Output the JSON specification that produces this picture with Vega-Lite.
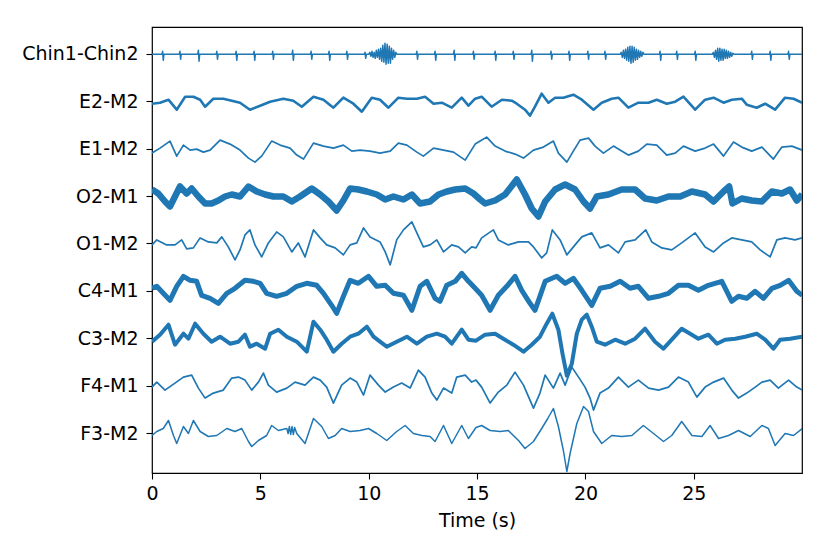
{
"$schema":"https://vega.github.io/schema/vega-lite/v6.json",
"width":650,"height":446,
"autosize":{"type":"none"},
"padding":{"left":152,"top":27,"right":28,"bottom":81},
"background":"white",
"config":{"view":{"stroke":"black","strokeWidth":1.2},"font":"DejaVu Sans"},
"data":{"values":[
{"c":"Chin1-Chin2","t":0,"a":0},
{"c":"Chin1-Chin2","t":0.46,"a":0},{"c":"Chin1-Chin2","t":0.49,"a":3},{"c":"Chin1-Chin2","t":0.52,"a":-6},{"c":"Chin1-Chin2","t":0.55,"a":0},
{"c":"Chin1-Chin2","t":1.26,"a":0},{"c":"Chin1-Chin2","t":1.29,"a":3},{"c":"Chin1-Chin2","t":1.32,"a":-5},{"c":"Chin1-Chin2","t":1.35,"a":0},
{"c":"Chin1-Chin2","t":2.11,"a":0},{"c":"Chin1-Chin2","t":2.14,"a":4},{"c":"Chin1-Chin2","t":2.17,"a":-7},{"c":"Chin1-Chin2","t":2.2,"a":0},
{"c":"Chin1-Chin2","t":2.96,"a":0},{"c":"Chin1-Chin2","t":2.99,"a":3},{"c":"Chin1-Chin2","t":3.02,"a":-5},{"c":"Chin1-Chin2","t":3.05,"a":0},
{"c":"Chin1-Chin2","t":3.85,"a":0},{"c":"Chin1-Chin2","t":3.88,"a":3},{"c":"Chin1-Chin2","t":3.91,"a":-6},{"c":"Chin1-Chin2","t":3.94,"a":0},
{"c":"Chin1-Chin2","t":4.68,"a":0},{"c":"Chin1-Chin2","t":4.71,"a":3},{"c":"Chin1-Chin2","t":4.74,"a":-6},{"c":"Chin1-Chin2","t":4.77,"a":0},
{"c":"Chin1-Chin2","t":5.54,"a":0},{"c":"Chin1-Chin2","t":5.57,"a":3},{"c":"Chin1-Chin2","t":5.6,"a":-5},{"c":"Chin1-Chin2","t":5.63,"a":0},
{"c":"Chin1-Chin2","t":6.46,"a":0},{"c":"Chin1-Chin2","t":6.49,"a":4},{"c":"Chin1-Chin2","t":6.52,"a":-6},{"c":"Chin1-Chin2","t":6.55,"a":0},
{"c":"Chin1-Chin2","t":7.31,"a":0},{"c":"Chin1-Chin2","t":7.34,"a":3},{"c":"Chin1-Chin2","t":7.37,"a":-5},{"c":"Chin1-Chin2","t":7.4,"a":0},
{"c":"Chin1-Chin2","t":8.14,"a":0},{"c":"Chin1-Chin2","t":8.17,"a":3},{"c":"Chin1-Chin2","t":8.2,"a":-6},{"c":"Chin1-Chin2","t":8.23,"a":0},
{"c":"Chin1-Chin2","t":8.96,"a":0},{"c":"Chin1-Chin2","t":8.99,"a":3},{"c":"Chin1-Chin2","t":9.02,"a":-5},{"c":"Chin1-Chin2","t":9.05,"a":0},
{"c":"Chin1-Chin2","t":9.8,"a":0},{"c":"Chin1-Chin2","t":9.83,"a":2},{"c":"Chin1-Chin2","t":9.86,"a":-4},{"c":"Chin1-Chin2","t":9.89,"a":0},
{"c":"Chin1-Chin2","t":10.0,"a":0},{"c":"Chin1-Chin2","t":10.05,"a":2},{"c":"Chin1-Chin2","t":10.1,"a":-2},{"c":"Chin1-Chin2","t":10.15,"a":3},{"c":"Chin1-Chin2","t":10.2,"a":-3},{"c":"Chin1-Chin2","t":10.25,"a":2},{"c":"Chin1-Chin2","t":10.3,"a":-4},{"c":"Chin1-Chin2","t":10.35,"a":4},{"c":"Chin1-Chin2","t":10.4,"a":-3},{"c":"Chin1-Chin2","t":10.45,"a":5},{"c":"Chin1-Chin2","t":10.5,"a":-5},{"c":"Chin1-Chin2","t":10.55,"a":6},{"c":"Chin1-Chin2","t":10.6,"a":-7},{"c":"Chin1-Chin2","t":10.65,"a":9},{"c":"Chin1-Chin2","t":10.7,"a":-8},{"c":"Chin1-Chin2","t":10.75,"a":11},{"c":"Chin1-Chin2","t":10.8,"a":-10},{"c":"Chin1-Chin2","t":10.85,"a":10},{"c":"Chin1-Chin2","t":10.9,"a":-9},{"c":"Chin1-Chin2","t":10.95,"a":8},{"c":"Chin1-Chin2","t":11.0,"a":-9},{"c":"Chin1-Chin2","t":11.05,"a":6},{"c":"Chin1-Chin2","t":11.1,"a":-5},{"c":"Chin1-Chin2","t":11.15,"a":4},{"c":"Chin1-Chin2","t":11.2,"a":-3},{"c":"Chin1-Chin2","t":11.25,"a":2},{"c":"Chin1-Chin2","t":11.3,"a":0},
{"c":"Chin1-Chin2","t":12.19,"a":0},{"c":"Chin1-Chin2","t":12.22,"a":3},{"c":"Chin1-Chin2","t":12.25,"a":-5},{"c":"Chin1-Chin2","t":12.28,"a":0},
{"c":"Chin1-Chin2","t":13.03,"a":0},{"c":"Chin1-Chin2","t":13.06,"a":3},{"c":"Chin1-Chin2","t":13.09,"a":-6},{"c":"Chin1-Chin2","t":13.12,"a":0},
{"c":"Chin1-Chin2","t":13.91,"a":0},{"c":"Chin1-Chin2","t":13.94,"a":4},{"c":"Chin1-Chin2","t":13.97,"a":-6},{"c":"Chin1-Chin2","t":14.0,"a":0},
{"c":"Chin1-Chin2","t":14.8,"a":0},{"c":"Chin1-Chin2","t":14.83,"a":3},{"c":"Chin1-Chin2","t":14.86,"a":-5},{"c":"Chin1-Chin2","t":14.89,"a":0},
{"c":"Chin1-Chin2","t":15.8,"a":0},{"c":"Chin1-Chin2","t":15.83,"a":3},{"c":"Chin1-Chin2","t":15.86,"a":-6},{"c":"Chin1-Chin2","t":15.89,"a":0},
{"c":"Chin1-Chin2","t":16.64,"a":0},{"c":"Chin1-Chin2","t":16.67,"a":3},{"c":"Chin1-Chin2","t":16.7,"a":-5},{"c":"Chin1-Chin2","t":16.73,"a":0},
{"c":"Chin1-Chin2","t":17.49,"a":0},{"c":"Chin1-Chin2","t":17.52,"a":4},{"c":"Chin1-Chin2","t":17.55,"a":-7},{"c":"Chin1-Chin2","t":17.58,"a":0},
{"c":"Chin1-Chin2","t":18.38,"a":0},{"c":"Chin1-Chin2","t":18.41,"a":3},{"c":"Chin1-Chin2","t":18.44,"a":-5},{"c":"Chin1-Chin2","t":18.47,"a":0},
{"c":"Chin1-Chin2","t":19.21,"a":0},{"c":"Chin1-Chin2","t":19.24,"a":3},{"c":"Chin1-Chin2","t":19.27,"a":-6},{"c":"Chin1-Chin2","t":19.3,"a":0},
{"c":"Chin1-Chin2","t":20.08,"a":0},{"c":"Chin1-Chin2","t":20.11,"a":3},{"c":"Chin1-Chin2","t":20.14,"a":-5},{"c":"Chin1-Chin2","t":20.17,"a":0},
{"c":"Chin1-Chin2","t":20.87,"a":0},{"c":"Chin1-Chin2","t":20.9,"a":3},{"c":"Chin1-Chin2","t":20.93,"a":-5},{"c":"Chin1-Chin2","t":20.96,"a":0},
{"c":"Chin1-Chin2","t":21.6,"a":0},{"c":"Chin1-Chin2","t":21.65,"a":2},{"c":"Chin1-Chin2","t":21.7,"a":-3},{"c":"Chin1-Chin2","t":21.75,"a":4},{"c":"Chin1-Chin2","t":21.8,"a":-4},{"c":"Chin1-Chin2","t":21.85,"a":5},{"c":"Chin1-Chin2","t":21.9,"a":-6},{"c":"Chin1-Chin2","t":21.95,"a":7},{"c":"Chin1-Chin2","t":22.0,"a":-7},{"c":"Chin1-Chin2","t":22.05,"a":8},{"c":"Chin1-Chin2","t":22.1,"a":-9},{"c":"Chin1-Chin2","t":22.15,"a":8},{"c":"Chin1-Chin2","t":22.2,"a":-8},{"c":"Chin1-Chin2","t":22.25,"a":7},{"c":"Chin1-Chin2","t":22.3,"a":-6},{"c":"Chin1-Chin2","t":22.35,"a":5},{"c":"Chin1-Chin2","t":22.4,"a":-5},{"c":"Chin1-Chin2","t":22.45,"a":4},{"c":"Chin1-Chin2","t":22.5,"a":-3},{"c":"Chin1-Chin2","t":22.55,"a":3},{"c":"Chin1-Chin2","t":22.6,"a":-2},{"c":"Chin1-Chin2","t":22.65,"a":2},{"c":"Chin1-Chin2","t":22.7,"a":0},
{"c":"Chin1-Chin2","t":23.41,"a":0},{"c":"Chin1-Chin2","t":23.44,"a":3},{"c":"Chin1-Chin2","t":23.47,"a":-6},{"c":"Chin1-Chin2","t":23.5,"a":0},
{"c":"Chin1-Chin2","t":24.18,"a":0},{"c":"Chin1-Chin2","t":24.21,"a":3},{"c":"Chin1-Chin2","t":24.24,"a":-5},{"c":"Chin1-Chin2","t":24.27,"a":0},
{"c":"Chin1-Chin2","t":25.03,"a":0},{"c":"Chin1-Chin2","t":25.06,"a":3},{"c":"Chin1-Chin2","t":25.09,"a":-6},{"c":"Chin1-Chin2","t":25.12,"a":0},
{"c":"Chin1-Chin2","t":25.85,"a":0},{"c":"Chin1-Chin2","t":25.9,"a":2},{"c":"Chin1-Chin2","t":25.95,"a":-3},{"c":"Chin1-Chin2","t":26.0,"a":4},{"c":"Chin1-Chin2","t":26.05,"a":-5},{"c":"Chin1-Chin2","t":26.1,"a":6},{"c":"Chin1-Chin2","t":26.15,"a":-7},{"c":"Chin1-Chin2","t":26.2,"a":6},{"c":"Chin1-Chin2","t":26.25,"a":-6},{"c":"Chin1-Chin2","t":26.3,"a":5},{"c":"Chin1-Chin2","t":26.35,"a":-6},{"c":"Chin1-Chin2","t":26.4,"a":5},{"c":"Chin1-Chin2","t":26.45,"a":-4},{"c":"Chin1-Chin2","t":26.5,"a":4},{"c":"Chin1-Chin2","t":26.55,"a":-4},{"c":"Chin1-Chin2","t":26.6,"a":3},{"c":"Chin1-Chin2","t":26.65,"a":-3},{"c":"Chin1-Chin2","t":26.7,"a":2},{"c":"Chin1-Chin2","t":26.75,"a":-2},{"c":"Chin1-Chin2","t":26.8,"a":1},{"c":"Chin1-Chin2","t":26.85,"a":0},
{"c":"Chin1-Chin2","t":27.64,"a":0},{"c":"Chin1-Chin2","t":27.67,"a":3},{"c":"Chin1-Chin2","t":27.7,"a":-5},{"c":"Chin1-Chin2","t":27.73,"a":0},
{"c":"Chin1-Chin2","t":28.49,"a":0},{"c":"Chin1-Chin2","t":28.52,"a":3},{"c":"Chin1-Chin2","t":28.55,"a":-6},{"c":"Chin1-Chin2","t":28.58,"a":0},
{"c":"Chin1-Chin2","t":29.34,"a":0},{"c":"Chin1-Chin2","t":29.37,"a":3},{"c":"Chin1-Chin2","t":29.4,"a":-5},{"c":"Chin1-Chin2","t":29.43,"a":0},
{"c":"Chin1-Chin2","t":30,"a":0},
{"c":"E2-M2","t":0,"a":-2},{"c":"E2-M2","t":0.37,"a":-1},{"c":"E2-M2","t":0.76,"a":2},{"c":"E2-M2","t":1.14,"a":-8},{"c":"E2-M2","t":1.53,"a":5},{"c":"E2-M2","t":1.91,"a":5},{"c":"E2-M2","t":2.22,"a":2},{"c":"E2-M2","t":2.45,"a":-5},{"c":"E2-M2","t":2.83,"a":3},{"c":"E2-M2","t":3.29,"a":3},{"c":"E2-M2","t":3.68,"a":1},{"c":"E2-M2","t":4.06,"a":-1},{"c":"E2-M2","t":4.52,"a":-8},{"c":"E2-M2","t":4.99,"a":-4},{"c":"E2-M2","t":5.45,"a":0},{"c":"E2-M2","t":6.06,"a":3},{"c":"E2-M2","t":6.52,"a":1},{"c":"E2-M2","t":6.91,"a":-5},{"c":"E2-M2","t":7.45,"a":5},{"c":"E2-M2","t":7.91,"a":2},{"c":"E2-M2","t":8.37,"a":-6},{"c":"E2-M2","t":8.83,"a":4},{"c":"E2-M2","t":9.29,"a":-2},{"c":"E2-M2","t":9.68,"a":-10},{"c":"E2-M2","t":10.14,"a":4},{"c":"E2-M2","t":10.52,"a":2},{"c":"E2-M2","t":10.91,"a":-6},{"c":"E2-M2","t":11.37,"a":4},{"c":"E2-M2","t":11.76,"a":3},{"c":"E2-M2","t":12.22,"a":3},{"c":"E2-M2","t":12.6,"a":5},{"c":"E2-M2","t":12.99,"a":-2},{"c":"E2-M2","t":13.37,"a":-1},{"c":"E2-M2","t":13.83,"a":-6},{"c":"E2-M2","t":14.29,"a":4},{"c":"E2-M2","t":14.6,"a":-4},{"c":"E2-M2","t":14.91,"a":3},{"c":"E2-M2","t":15.21,"a":5},{"c":"E2-M2","t":15.67,"a":-5},{"c":"E2-M2","t":16.14,"a":2},{"c":"E2-M2","t":16.6,"a":1},{"c":"E2-M2","t":16.83,"a":-2},{"c":"E2-M2","t":17.21,"a":-8},{"c":"E2-M2","t":17.44,"a":-14},{"c":"E2-M2","t":17.67,"a":-5},{"c":"E2-M2","t":17.98,"a":8},{"c":"E2-M2","t":18.29,"a":-1},{"c":"E2-M2","t":18.6,"a":4},{"c":"E2-M2","t":18.98,"a":4},{"c":"E2-M2","t":19.44,"a":7},{"c":"E2-M2","t":19.83,"a":2},{"c":"E2-M2","t":20.37,"a":-8},{"c":"E2-M2","t":20.75,"a":-1},{"c":"E2-M2","t":21.21,"a":3},{"c":"E2-M2","t":21.52,"a":4},{"c":"E2-M2","t":21.98,"a":-6},{"c":"E2-M2","t":22.44,"a":-1},{"c":"E2-M2","t":22.91,"a":-1},{"c":"E2-M2","t":23.29,"a":2},{"c":"E2-M2","t":23.75,"a":-2},{"c":"E2-M2","t":24.14,"a":0},{"c":"E2-M2","t":24.52,"a":5},{"c":"E2-M2","t":25.06,"a":-8},{"c":"E2-M2","t":25.52,"a":2},{"c":"E2-M2","t":25.91,"a":4},{"c":"E2-M2","t":26.37,"a":-1},{"c":"E2-M2","t":26.75,"a":2},{"c":"E2-M2","t":27.21,"a":3},{"c":"E2-M2","t":27.44,"a":-3},{"c":"E2-M2","t":27.9,"a":-6},{"c":"E2-M2","t":28.29,"a":-2},{"c":"E2-M2","t":28.75,"a":-8},{"c":"E2-M2","t":29.21,"a":4},{"c":"E2-M2","t":29.6,"a":3},{"c":"E2-M2","t":30,"a":-1},
{"c":"E1-M2","t":0,"a":-4},{"c":"E1-M2","t":0.37,"a":1},{"c":"E1-M2","t":0.83,"a":8},{"c":"E1-M2","t":1.14,"a":-7},{"c":"E1-M2","t":1.45,"a":4},{"c":"E1-M2","t":1.76,"a":-1},{"c":"E1-M2","t":2.06,"a":0},{"c":"E1-M2","t":2.37,"a":-3},{"c":"E1-M2","t":2.68,"a":-1},{"c":"E1-M2","t":3.14,"a":9},{"c":"E1-M2","t":3.6,"a":5},{"c":"E1-M2","t":4.06,"a":-1},{"c":"E1-M2","t":4.45,"a":-9},{"c":"E1-M2","t":4.75,"a":-13},{"c":"E1-M2","t":5.06,"a":-7},{"c":"E1-M2","t":5.52,"a":8},{"c":"E1-M2","t":5.91,"a":4},{"c":"E1-M2","t":6.37,"a":1},{"c":"E1-M2","t":6.68,"a":-6},{"c":"E1-M2","t":6.99,"a":-10},{"c":"E1-M2","t":7.45,"a":6},{"c":"E1-M2","t":7.91,"a":3},{"c":"E1-M2","t":8.37,"a":1},{"c":"E1-M2","t":8.83,"a":4},{"c":"E1-M2","t":9.22,"a":-2},{"c":"E1-M2","t":9.6,"a":-1},{"c":"E1-M2","t":10.06,"a":-2},{"c":"E1-M2","t":10.52,"a":-4},{"c":"E1-M2","t":10.99,"a":-2},{"c":"E1-M2","t":11.37,"a":6},{"c":"E1-M2","t":11.76,"a":4},{"c":"E1-M2","t":12.22,"a":-3},{"c":"E1-M2","t":12.52,"a":-7},{"c":"E1-M2","t":12.99,"a":1},{"c":"E1-M2","t":13.45,"a":-1},{"c":"E1-M2","t":13.91,"a":-3},{"c":"E1-M2","t":14.45,"a":-11},{"c":"E1-M2","t":14.91,"a":5},{"c":"E1-M2","t":15.14,"a":8},{"c":"E1-M2","t":15.44,"a":12},{"c":"E1-M2","t":15.83,"a":3},{"c":"E1-M2","t":16.29,"a":-2},{"c":"E1-M2","t":16.75,"a":-5},{"c":"E1-M2","t":17.14,"a":-9},{"c":"E1-M2","t":17.6,"a":-1},{"c":"E1-M2","t":18.06,"a":2},{"c":"E1-M2","t":18.52,"a":8},{"c":"E1-M2","t":18.75,"a":-4},{"c":"E1-M2","t":19.14,"a":-13},{"c":"E1-M2","t":19.44,"a":-2},{"c":"E1-M2","t":19.75,"a":9},{"c":"E1-M2","t":20.14,"a":11},{"c":"E1-M2","t":20.44,"a":3},{"c":"E1-M2","t":20.83,"a":-4},{"c":"E1-M2","t":21.29,"a":3},{"c":"E1-M2","t":21.67,"a":-2},{"c":"E1-M2","t":21.98,"a":-6},{"c":"E1-M2","t":22.44,"a":-2},{"c":"E1-M2","t":22.83,"a":5},{"c":"E1-M2","t":23.29,"a":4},{"c":"E1-M2","t":23.75,"a":-6},{"c":"E1-M2","t":24.14,"a":-4},{"c":"E1-M2","t":24.52,"a":3},{"c":"E1-M2","t":25.06,"a":-2},{"c":"E1-M2","t":25.52,"a":1},{"c":"E1-M2","t":25.91,"a":5},{"c":"E1-M2","t":26.37,"a":-7},{"c":"E1-M2","t":26.83,"a":7},{"c":"E1-M2","t":27.21,"a":2},{"c":"E1-M2","t":27.67,"a":-2},{"c":"E1-M2","t":28.14,"a":2},{"c":"E1-M2","t":28.67,"a":-10},{"c":"E1-M2","t":29.06,"a":2},{"c":"E1-M2","t":29.52,"a":3},{"c":"E1-M2","t":30,"a":-1},
{"c":"O2-M1","t":0,"a":7},{"c":"O2-M1","t":0.29,"a":3},{"c":"O2-M1","t":0.6,"a":-5},{"c":"O2-M1","t":0.83,"a":-10},{"c":"O2-M1","t":1.06,"a":0},{"c":"O2-M1","t":1.29,"a":10},{"c":"O2-M1","t":1.6,"a":3},{"c":"O2-M1","t":1.83,"a":8},{"c":"O2-M1","t":2.14,"a":0},{"c":"O2-M1","t":2.45,"a":-7},{"c":"O2-M1","t":2.75,"a":-7},{"c":"O2-M1","t":3.06,"a":-4},{"c":"O2-M1","t":3.37,"a":0},{"c":"O2-M1","t":3.68,"a":2},{"c":"O2-M1","t":4.06,"a":0},{"c":"O2-M1","t":4.45,"a":10},{"c":"O2-M1","t":4.83,"a":5},{"c":"O2-M1","t":5.22,"a":2},{"c":"O2-M1","t":5.6,"a":0},{"c":"O2-M1","t":6.06,"a":0},{"c":"O2-M1","t":6.45,"a":-5},{"c":"O2-M1","t":6.83,"a":0},{"c":"O2-M1","t":7.37,"a":8},{"c":"O2-M1","t":7.76,"a":2},{"c":"O2-M1","t":8.14,"a":-5},{"c":"O2-M1","t":8.52,"a":-14},{"c":"O2-M1","t":8.83,"a":-4},{"c":"O2-M1","t":9.14,"a":8},{"c":"O2-M1","t":9.52,"a":7},{"c":"O2-M1","t":9.91,"a":5},{"c":"O2-M1","t":10.37,"a":2},{"c":"O2-M1","t":10.76,"a":-3},{"c":"O2-M1","t":11.14,"a":0},{"c":"O2-M1","t":11.6,"a":-3},{"c":"O2-M1","t":11.99,"a":2},{"c":"O2-M1","t":12.37,"a":-7},{"c":"O2-M1","t":12.83,"a":-5},{"c":"O2-M1","t":13.22,"a":2},{"c":"O2-M1","t":13.6,"a":5},{"c":"O2-M1","t":13.99,"a":7},{"c":"O2-M1","t":14.45,"a":8},{"c":"O2-M1","t":14.83,"a":3},{"c":"O2-M1","t":15.14,"a":-3},{"c":"O2-M1","t":15.37,"a":-7},{"c":"O2-M1","t":15.83,"a":-4},{"c":"O2-M1","t":16.29,"a":2},{"c":"O2-M1","t":16.83,"a":17},{"c":"O2-M1","t":17.21,"a":2},{"c":"O2-M1","t":17.52,"a":-12},{"c":"O2-M1","t":17.83,"a":-20},{"c":"O2-M1","t":18.14,"a":-5},{"c":"O2-M1","t":18.6,"a":7},{"c":"O2-M1","t":19.06,"a":12},{"c":"O2-M1","t":19.52,"a":7},{"c":"O2-M1","t":19.91,"a":-5},{"c":"O2-M1","t":20.21,"a":-12},{"c":"O2-M1","t":20.52,"a":0},{"c":"O2-M1","t":21.06,"a":2},{"c":"O2-M1","t":21.67,"a":7},{"c":"O2-M1","t":22.29,"a":7},{"c":"O2-M1","t":22.75,"a":-2},{"c":"O2-M1","t":23.29,"a":-4},{"c":"O2-M1","t":23.83,"a":0},{"c":"O2-M1","t":24.37,"a":0},{"c":"O2-M1","t":24.91,"a":5},{"c":"O2-M1","t":25.52,"a":2},{"c":"O2-M1","t":25.91,"a":-5},{"c":"O2-M1","t":26.37,"a":5},{"c":"O2-M1","t":26.63,"a":10},{"c":"O2-M1","t":26.78,"a":-7},{"c":"O2-M1","t":27.21,"a":-2},{"c":"O2-M1","t":27.67,"a":-4},{"c":"O2-M1","t":28.14,"a":-5},{"c":"O2-M1","t":28.6,"a":5},{"c":"O2-M1","t":29.06,"a":3},{"c":"O2-M1","t":29.44,"a":7},{"c":"O2-M1","t":29.75,"a":-4},{"c":"O2-M1","t":30,"a":2},
{"c":"O1-M2","t":0,"a":-1},{"c":"O1-M2","t":0.22,"a":4},{"c":"O1-M2","t":0.68,"a":-1},{"c":"O1-M2","t":1.06,"a":-1},{"c":"O1-M2","t":1.37,"a":4},{"c":"O1-M2","t":1.6,"a":-5},{"c":"O1-M2","t":1.91,"a":-4},{"c":"O1-M2","t":2.22,"a":6},{"c":"O1-M2","t":2.6,"a":2},{"c":"O1-M2","t":2.99,"a":1},{"c":"O1-M2","t":3.22,"a":7},{"c":"O1-M2","t":3.52,"a":-3},{"c":"O1-M2","t":3.83,"a":-16},{"c":"O1-M2","t":4.06,"a":-6},{"c":"O1-M2","t":4.29,"a":9},{"c":"O1-M2","t":4.52,"a":14},{"c":"O1-M2","t":4.75,"a":-1},{"c":"O1-M2","t":5.06,"a":-13},{"c":"O1-M2","t":5.37,"a":1},{"c":"O1-M2","t":5.75,"a":12},{"c":"O1-M2","t":6.06,"a":7},{"c":"O1-M2","t":6.45,"a":-8},{"c":"O1-M2","t":6.75,"a":1},{"c":"O1-M2","t":7.06,"a":-13},{"c":"O1-M2","t":7.45,"a":14},{"c":"O1-M2","t":7.76,"a":6},{"c":"O1-M2","t":8.06,"a":-1},{"c":"O1-M2","t":8.45,"a":-4},{"c":"O1-M2","t":8.83,"a":-11},{"c":"O1-M2","t":9.14,"a":-1},{"c":"O1-M2","t":9.45,"a":1},{"c":"O1-M2","t":9.76,"a":16},{"c":"O1-M2","t":10.06,"a":7},{"c":"O1-M2","t":10.52,"a":2},{"c":"O1-M2","t":10.76,"a":-8},{"c":"O1-M2","t":10.99,"a":-21},{"c":"O1-M2","t":11.29,"a":4},{"c":"O1-M2","t":11.6,"a":14},{"c":"O1-M2","t":11.99,"a":22},{"c":"O1-M2","t":12.22,"a":11},{"c":"O1-M2","t":12.52,"a":-3},{"c":"O1-M2","t":12.83,"a":-1},{"c":"O1-M2","t":13.14,"a":4},{"c":"O1-M2","t":13.45,"a":-8},{"c":"O1-M2","t":13.83,"a":-1},{"c":"O1-M2","t":14.14,"a":-3},{"c":"O1-M2","t":14.45,"a":-9},{"c":"O1-M2","t":14.75,"a":-3},{"c":"O1-M2","t":14.95,"a":-4},{"c":"O1-M2","t":15.21,"a":6},{"c":"O1-M2","t":15.75,"a":14},{"c":"O1-M2","t":15.98,"a":4},{"c":"O1-M2","t":16.44,"a":-1},{"c":"O1-M2","t":16.91,"a":2},{"c":"O1-M2","t":17.37,"a":2},{"c":"O1-M2","t":17.6,"a":-3},{"c":"O1-M2","t":17.98,"a":-14},{"c":"O1-M2","t":18.21,"a":-9},{"c":"O1-M2","t":18.47,"a":14},{"c":"O1-M2","t":18.83,"a":4},{"c":"O1-M2","t":19.14,"a":-11},{"c":"O1-M2","t":19.52,"a":-1},{"c":"O1-M2","t":19.83,"a":7},{"c":"O1-M2","t":20.29,"a":11},{"c":"O1-M2","t":20.67,"a":-4},{"c":"O1-M2","t":21.06,"a":-1},{"c":"O1-M2","t":21.52,"a":-9},{"c":"O1-M2","t":21.83,"a":2},{"c":"O1-M2","t":22.29,"a":4},{"c":"O1-M2","t":22.78,"a":14},{"c":"O1-M2","t":23.06,"a":2},{"c":"O1-M2","t":23.52,"a":-4},{"c":"O1-M2","t":23.98,"a":-6},{"c":"O1-M2","t":24.44,"a":1},{"c":"O1-M2","t":25.06,"a":11},{"c":"O1-M2","t":25.52,"a":-3},{"c":"O1-M2","t":25.91,"a":-8},{"c":"O1-M2","t":26.37,"a":1},{"c":"O1-M2","t":26.75,"a":6},{"c":"O1-M2","t":27.21,"a":4},{"c":"O1-M2","t":27.67,"a":2},{"c":"O1-M2","t":28.06,"a":-6},{"c":"O1-M2","t":28.52,"a":-13},{"c":"O1-M2","t":28.83,"a":4},{"c":"O1-M2","t":29.21,"a":6},{"c":"O1-M2","t":29.67,"a":4},{"c":"O1-M2","t":30,"a":6},
{"c":"C4-M1","t":0,"a":3},{"c":"C4-M1","t":0.22,"a":5},{"c":"C4-M1","t":0.52,"a":-2},{"c":"C4-M1","t":0.83,"a":-9},{"c":"C4-M1","t":1.14,"a":5},{"c":"C4-M1","t":1.45,"a":15},{"c":"C4-M1","t":1.76,"a":11},{"c":"C4-M1","t":2.06,"a":10},{"c":"C4-M1","t":2.29,"a":-4},{"c":"C4-M1","t":2.68,"a":-7},{"c":"C4-M1","t":3.06,"a":-12},{"c":"C4-M1","t":3.45,"a":-2},{"c":"C4-M1","t":3.83,"a":3},{"c":"C4-M1","t":4.29,"a":11},{"c":"C4-M1","t":4.68,"a":10},{"c":"C4-M1","t":4.99,"a":8},{"c":"C4-M1","t":5.29,"a":-2},{"c":"C4-M1","t":5.75,"a":-5},{"c":"C4-M1","t":6.22,"a":-2},{"c":"C4-M1","t":6.68,"a":5},{"c":"C4-M1","t":7.14,"a":8},{"c":"C4-M1","t":7.6,"a":6},{"c":"C4-M1","t":7.91,"a":-2},{"c":"C4-M1","t":8.29,"a":-14},{"c":"C4-M1","t":8.52,"a":-22},{"c":"C4-M1","t":8.83,"a":-5},{"c":"C4-M1","t":9.14,"a":11},{"c":"C4-M1","t":9.52,"a":8},{"c":"C4-M1","t":9.99,"a":15},{"c":"C4-M1","t":10.37,"a":5},{"c":"C4-M1","t":10.76,"a":6},{"c":"C4-M1","t":11.14,"a":-2},{"c":"C4-M1","t":11.6,"a":-4},{"c":"C4-M1","t":11.99,"a":-19},{"c":"C4-M1","t":12.37,"a":5},{"c":"C4-M1","t":12.68,"a":10},{"c":"C4-M1","t":13.06,"a":-7},{"c":"C4-M1","t":13.29,"a":-10},{"c":"C4-M1","t":13.6,"a":6},{"c":"C4-M1","t":13.99,"a":10},{"c":"C4-M1","t":14.29,"a":18},{"c":"C4-M1","t":14.6,"a":10},{"c":"C4-M1","t":14.91,"a":3},{"c":"C4-M1","t":15.21,"a":-4},{"c":"C4-M1","t":15.6,"a":-19},{"c":"C4-M1","t":15.98,"a":-4},{"c":"C4-M1","t":16.37,"a":5},{"c":"C4-M1","t":16.75,"a":15},{"c":"C4-M1","t":17.06,"a":1},{"c":"C4-M1","t":17.44,"a":-12},{"c":"C4-M1","t":17.67,"a":-19},{"c":"C4-M1","t":18.14,"a":10},{"c":"C4-M1","t":18.67,"a":15},{"c":"C4-M1","t":19.06,"a":8},{"c":"C4-M1","t":19.44,"a":13},{"c":"C4-M1","t":19.83,"a":1},{"c":"C4-M1","t":20.29,"a":-14},{"c":"C4-M1","t":20.67,"a":3},{"c":"C4-M1","t":21.14,"a":5},{"c":"C4-M1","t":21.6,"a":10},{"c":"C4-M1","t":22.06,"a":3},{"c":"C4-M1","t":22.44,"a":5},{"c":"C4-M1","t":22.91,"a":-7},{"c":"C4-M1","t":23.37,"a":-5},{"c":"C4-M1","t":23.83,"a":-2},{"c":"C4-M1","t":24.29,"a":6},{"c":"C4-M1","t":24.75,"a":6},{"c":"C4-M1","t":25.21,"a":1},{"c":"C4-M1","t":25.67,"a":6},{"c":"C4-M1","t":26.29,"a":10},{"c":"C4-M1","t":26.75,"a":-10},{"c":"C4-M1","t":27.06,"a":-5},{"c":"C4-M1","t":27.44,"a":-7},{"c":"C4-M1","t":27.83,"a":0},{"c":"C4-M1","t":28.21,"a":-7},{"c":"C4-M1","t":28.6,"a":3},{"c":"C4-M1","t":28.98,"a":6},{"c":"C4-M1","t":29.37,"a":11},{"c":"C4-M1","t":29.75,"a":0},{"c":"C4-M1","t":30,"a":-4},
{"c":"C3-M2","t":0,"a":-3},{"c":"C3-M2","t":0.37,"a":4},{"c":"C3-M2","t":0.76,"a":14},{"c":"C3-M2","t":1.06,"a":-6},{"c":"C3-M2","t":1.45,"a":5},{"c":"C3-M2","t":1.68,"a":0},{"c":"C3-M2","t":1.99,"a":15},{"c":"C3-M2","t":2.37,"a":5},{"c":"C3-M2","t":2.75,"a":-3},{"c":"C3-M2","t":3.14,"a":2},{"c":"C3-M2","t":3.6,"a":-5},{"c":"C3-M2","t":3.99,"a":-3},{"c":"C3-M2","t":4.29,"a":4},{"c":"C3-M2","t":4.52,"a":-8},{"c":"C3-M2","t":4.83,"a":-5},{"c":"C3-M2","t":5.22,"a":-10},{"c":"C3-M2","t":5.45,"a":5},{"c":"C3-M2","t":5.83,"a":9},{"c":"C3-M2","t":6.22,"a":2},{"c":"C3-M2","t":6.68,"a":-3},{"c":"C3-M2","t":7.14,"a":-13},{"c":"C3-M2","t":7.45,"a":17},{"c":"C3-M2","t":7.76,"a":9},{"c":"C3-M2","t":8.06,"a":-1},{"c":"C3-M2","t":8.37,"a":-13},{"c":"C3-M2","t":8.75,"a":-5},{"c":"C3-M2","t":9.14,"a":2},{"c":"C3-M2","t":9.52,"a":5},{"c":"C3-M2","t":9.91,"a":12},{"c":"C3-M2","t":10.22,"a":2},{"c":"C3-M2","t":10.52,"a":-3},{"c":"C3-M2","t":10.83,"a":-8},{"c":"C3-M2","t":11.29,"a":-3},{"c":"C3-M2","t":11.76,"a":2},{"c":"C3-M2","t":12.22,"a":-5},{"c":"C3-M2","t":12.68,"a":2},{"c":"C3-M2","t":13.14,"a":5},{"c":"C3-M2","t":13.52,"a":2},{"c":"C3-M2","t":13.83,"a":-5},{"c":"C3-M2","t":14.29,"a":9},{"c":"C3-M2","t":14.6,"a":-1},{"c":"C3-M2","t":14.95,"a":-2},{"c":"C3-M2","t":15.37,"a":4},{"c":"C3-M2","t":15.83,"a":5},{"c":"C3-M2","t":16.21,"a":0},{"c":"C3-M2","t":16.67,"a":-6},{"c":"C3-M2","t":17.14,"a":-13},{"c":"C3-M2","t":17.52,"a":-6},{"c":"C3-M2","t":17.9,"a":2},{"c":"C3-M2","t":18.21,"a":15},{"c":"C3-M2","t":18.47,"a":25},{"c":"C3-M2","t":18.75,"a":9},{"c":"C3-M2","t":18.94,"a":-15},{"c":"C3-M2","t":19.14,"a":-37},{"c":"C3-M2","t":19.37,"a":-25},{"c":"C3-M2","t":19.6,"a":5},{"c":"C3-M2","t":19.83,"a":19},{"c":"C3-M2","t":20.06,"a":24},{"c":"C3-M2","t":20.29,"a":12},{"c":"C3-M2","t":20.52,"a":-3},{"c":"C3-M2","t":20.9,"a":-6},{"c":"C3-M2","t":21.37,"a":-1},{"c":"C3-M2","t":21.83,"a":-5},{"c":"C3-M2","t":22.29,"a":0},{"c":"C3-M2","t":22.75,"a":10},{"c":"C3-M2","t":23.21,"a":-3},{"c":"C3-M2","t":23.6,"a":-10},{"c":"C3-M2","t":23.98,"a":-1},{"c":"C3-M2","t":24.44,"a":10},{"c":"C3-M2","t":24.83,"a":5},{"c":"C3-M2","t":25.21,"a":0},{"c":"C3-M2","t":25.67,"a":4},{"c":"C3-M2","t":26.06,"a":-5},{"c":"C3-M2","t":26.44,"a":-1},{"c":"C3-M2","t":26.91,"a":0},{"c":"C3-M2","t":27.37,"a":2},{"c":"C3-M2","t":27.9,"a":5},{"c":"C3-M2","t":28.29,"a":-1},{"c":"C3-M2","t":28.67,"a":-10},{"c":"C3-M2","t":28.98,"a":-1},{"c":"C3-M2","t":29.44,"a":0},{"c":"C3-M2","t":30,"a":2},
{"c":"F4-M1","t":0,"a":-1},{"c":"F4-M1","t":0.22,"a":4},{"c":"F4-M1","t":0.6,"a":-4},{"c":"F4-M1","t":1.06,"a":3},{"c":"F4-M1","t":1.45,"a":9},{"c":"F4-M1","t":1.83,"a":11},{"c":"F4-M1","t":2.14,"a":-2},{"c":"F4-M1","t":2.45,"a":-12},{"c":"F4-M1","t":2.83,"a":-7},{"c":"F4-M1","t":3.29,"a":-4},{"c":"F4-M1","t":3.68,"a":8},{"c":"F4-M1","t":3.99,"a":9},{"c":"F4-M1","t":4.29,"a":6},{"c":"F4-M1","t":4.6,"a":-4},{"c":"F4-M1","t":4.91,"a":4},{"c":"F4-M1","t":5.14,"a":13},{"c":"F4-M1","t":5.37,"a":1},{"c":"F4-M1","t":5.75,"a":-6},{"c":"F4-M1","t":6.22,"a":-2},{"c":"F4-M1","t":6.6,"a":4},{"c":"F4-M1","t":7.06,"a":1},{"c":"F4-M1","t":7.45,"a":9},{"c":"F4-M1","t":7.76,"a":6},{"c":"F4-M1","t":8.06,"a":-1},{"c":"F4-M1","t":8.37,"a":-17},{"c":"F4-M1","t":8.75,"a":1},{"c":"F4-M1","t":9.14,"a":8},{"c":"F4-M1","t":9.45,"a":4},{"c":"F4-M1","t":9.76,"a":-9},{"c":"F4-M1","t":10.06,"a":11},{"c":"F4-M1","t":10.45,"a":1},{"c":"F4-M1","t":10.76,"a":-6},{"c":"F4-M1","t":11.14,"a":-1},{"c":"F4-M1","t":11.52,"a":3},{"c":"F4-M1","t":11.91,"a":-2},{"c":"F4-M1","t":12.29,"a":16},{"c":"F4-M1","t":12.6,"a":9},{"c":"F4-M1","t":12.91,"a":-7},{"c":"F4-M1","t":13.14,"a":-14},{"c":"F4-M1","t":13.45,"a":-2},{"c":"F4-M1","t":13.83,"a":-7},{"c":"F4-M1","t":14.06,"a":9},{"c":"F4-M1","t":14.45,"a":11},{"c":"F4-M1","t":14.75,"a":4},{"c":"F4-M1","t":14.95,"a":6},{"c":"F4-M1","t":15.21,"a":-1},{"c":"F4-M1","t":15.6,"a":-17},{"c":"F4-M1","t":15.98,"a":-6},{"c":"F4-M1","t":16.37,"a":1},{"c":"F4-M1","t":16.75,"a":14},{"c":"F4-M1","t":17.14,"a":1},{"c":"F4-M1","t":17.6,"a":-22},{"c":"F4-M1","t":17.9,"a":-7},{"c":"F4-M1","t":18.14,"a":11},{"c":"F4-M1","t":18.52,"a":-2},{"c":"F4-M1","t":18.83,"a":13},{"c":"F4-M1","t":19.06,"a":1},{"c":"F4-M1","t":19.37,"a":19},{"c":"F4-M1","t":19.68,"a":9},{"c":"F4-M1","t":19.98,"a":-1},{"c":"F4-M1","t":20.21,"a":-12},{"c":"F4-M1","t":20.37,"a":-24},{"c":"F4-M1","t":20.67,"a":-7},{"c":"F4-M1","t":21.06,"a":-2},{"c":"F4-M1","t":21.52,"a":9},{"c":"F4-M1","t":21.98,"a":-1},{"c":"F4-M1","t":22.44,"a":6},{"c":"F4-M1","t":22.91,"a":-2},{"c":"F4-M1","t":23.37,"a":-4},{"c":"F4-M1","t":23.83,"a":-1},{"c":"F4-M1","t":24.29,"a":9},{"c":"F4-M1","t":24.75,"a":4},{"c":"F4-M1","t":25.14,"a":-11},{"c":"F4-M1","t":25.52,"a":-1},{"c":"F4-M1","t":25.91,"a":4},{"c":"F4-M1","t":26.37,"a":8},{"c":"F4-M1","t":26.75,"a":-4},{"c":"F4-M1","t":27.06,"a":-12},{"c":"F4-M1","t":27.44,"a":-7},{"c":"F4-M1","t":27.83,"a":-1},{"c":"F4-M1","t":28.14,"a":4},{"c":"F4-M1","t":28.52,"a":6},{"c":"F4-M1","t":28.9,"a":-2},{"c":"F4-M1","t":29.37,"a":6},{"c":"F4-M1","t":29.75,"a":-1},{"c":"F4-M1","t":30,"a":-4},
{"c":"F3-M2","t":0,"a":-2},{"c":"F3-M2","t":0.22,"a":2},{"c":"F3-M2","t":0.52,"a":5},{"c":"F3-M2","t":0.76,"a":13},{"c":"F3-M2","t":0.99,"a":-2},{"c":"F3-M2","t":1.14,"a":-10},{"c":"F3-M2","t":1.45,"a":7},{"c":"F3-M2","t":1.68,"a":0},{"c":"F3-M2","t":1.91,"a":13},{"c":"F3-M2","t":2.22,"a":2},{"c":"F3-M2","t":2.6,"a":-3},{"c":"F3-M2","t":2.99,"a":-2},{"c":"F3-M2","t":3.45,"a":5},{"c":"F3-M2","t":3.83,"a":2},{"c":"F3-M2","t":4.14,"a":5},{"c":"F3-M2","t":4.45,"a":-8},{"c":"F3-M2","t":4.6,"a":-13},{"c":"F3-M2","t":4.91,"a":-7},{"c":"F3-M2","t":5.29,"a":-2},{"c":"F3-M2","t":5.52,"a":8},{"c":"F3-M2","t":5.83,"a":3},{"c":"F3-M2","t":6.22,"a":5},{"c":"F3-M2","t":6.28,"a":0},{"c":"F3-M2","t":6.34,"a":7},{"c":"F3-M2","t":6.4,"a":-1},{"c":"F3-M2","t":6.46,"a":7},{"c":"F3-M2","t":6.52,"a":-1},{"c":"F3-M2","t":6.58,"a":6},{"c":"F3-M2","t":6.68,"a":0},{"c":"F3-M2","t":7.06,"a":-10},{"c":"F3-M2","t":7.45,"a":15},{"c":"F3-M2","t":7.83,"a":7},{"c":"F3-M2","t":8.14,"a":-5},{"c":"F3-M2","t":8.45,"a":-2},{"c":"F3-M2","t":8.75,"a":5},{"c":"F3-M2","t":9.14,"a":2},{"c":"F3-M2","t":9.6,"a":3},{"c":"F3-M2","t":9.99,"a":5},{"c":"F3-M2","t":10.37,"a":0},{"c":"F3-M2","t":10.83,"a":-7},{"c":"F3-M2","t":11.29,"a":2},{"c":"F3-M2","t":11.68,"a":8},{"c":"F3-M2","t":12.06,"a":0},{"c":"F3-M2","t":12.45,"a":-2},{"c":"F3-M2","t":12.83,"a":-3},{"c":"F3-M2","t":13.06,"a":-8},{"c":"F3-M2","t":13.45,"a":8},{"c":"F3-M2","t":13.83,"a":-10},{"c":"F3-M2","t":14.29,"a":8},{"c":"F3-M2","t":14.6,"a":-5},{"c":"F3-M2","t":14.95,"a":6},{"c":"F3-M2","t":15.21,"a":8},{"c":"F3-M2","t":15.6,"a":3},{"c":"F3-M2","t":16.06,"a":2},{"c":"F3-M2","t":16.44,"a":3},{"c":"F3-M2","t":16.91,"a":-7},{"c":"F3-M2","t":17.21,"a":-15},{"c":"F3-M2","t":17.6,"a":-8},{"c":"F3-M2","t":17.98,"a":5},{"c":"F3-M2","t":18.26,"a":15},{"c":"F3-M2","t":18.52,"a":25},{"c":"F3-M2","t":18.75,"a":7},{"c":"F3-M2","t":18.98,"a":-17},{"c":"F3-M2","t":19.14,"a":-38},{"c":"F3-M2","t":19.29,"a":-20},{"c":"F3-M2","t":19.6,"a":10},{"c":"F3-M2","t":19.91,"a":27},{"c":"F3-M2","t":20.14,"a":22},{"c":"F3-M2","t":20.37,"a":2},{"c":"F3-M2","t":20.75,"a":-10},{"c":"F3-M2","t":21.21,"a":-2},{"c":"F3-M2","t":21.67,"a":-3},{"c":"F3-M2","t":22.14,"a":-2},{"c":"F3-M2","t":22.67,"a":8},{"c":"F3-M2","t":23.14,"a":0},{"c":"F3-M2","t":23.6,"a":-8},{"c":"F3-M2","t":23.98,"a":-2},{"c":"F3-M2","t":24.44,"a":12},{"c":"F3-M2","t":24.91,"a":-2},{"c":"F3-M2","t":25.37,"a":-3},{"c":"F3-M2","t":25.75,"a":8},{"c":"F3-M2","t":26.14,"a":-5},{"c":"F3-M2","t":26.6,"a":-2},{"c":"F3-M2","t":27.06,"a":3},{"c":"F3-M2","t":27.6,"a":-3},{"c":"F3-M2","t":28.14,"a":8},{"c":"F3-M2","t":28.44,"a":5},{"c":"F3-M2","t":28.75,"a":-12},{"c":"F3-M2","t":29.21,"a":0},{"c":"F3-M2","t":29.6,"a":-2},{"c":"F3-M2","t":30,"a":5}
]},
"mark":{"type":"line","clip":true,"strokeJoin":"round","color":"#1f77b4"},
"encoding":{
"x":{"field":"t","type":"quantitative","scale":{"domain":[0,29.99],"nice":false,"zero":false},
"axis":{"values":[0,5,10,15,20,25],"format":"d","title":"Time (s)","grid":false,"domain":false,"tickColor":"black","tickSize":6,"tickWidth":1.1,"labelFontSize":19,"titleFontSize":19,"labelColor":"black","titleColor":"black","titleFontWeight":"normal","labelPadding":5,"titlePadding":8,"labelFlush":false,"labelFont":"DejaVu Sans","titleFont":"DejaVu Sans"}},
"y":{"field":"c","type":"nominal","scale":{"type":"band","domain":["Chin1-Chin2","E2-M2","E1-M2","O2-M1","O1-M2","C4-M1","C3-M2","F4-M1","F3-M2"],"range":[3.6,430.2],"paddingInner":0,"paddingOuter":0},
"axis":{"title":null,"grid":false,"domain":false,"tickColor":"black","tickSize":6,"tickWidth":1.1,"labelFontSize":19,"labelColor":"black","labelPadding":8,"labelFont":"DejaVu Sans"}},
"yOffset":{"field":"a","type":"quantitative","scale":{"domain":[-50,50],"range":[73.7,-26.3]}},
"order":{"field":"t","type":"quantitative"},
"detail":{"field":"c"},
"strokeWidth":{"field":"c","type":"ordinal","scale":{"type":"ordinal","domain":["Chin1-Chin2","E2-M2","E1-M2","O2-M1","O1-M2","C4-M1","C3-M2","F4-M1","F3-M2"],"range":[1.5,2.6,1.7,6.5,1.7,5,4,1.7,1.5]},"legend":null}
}
}
